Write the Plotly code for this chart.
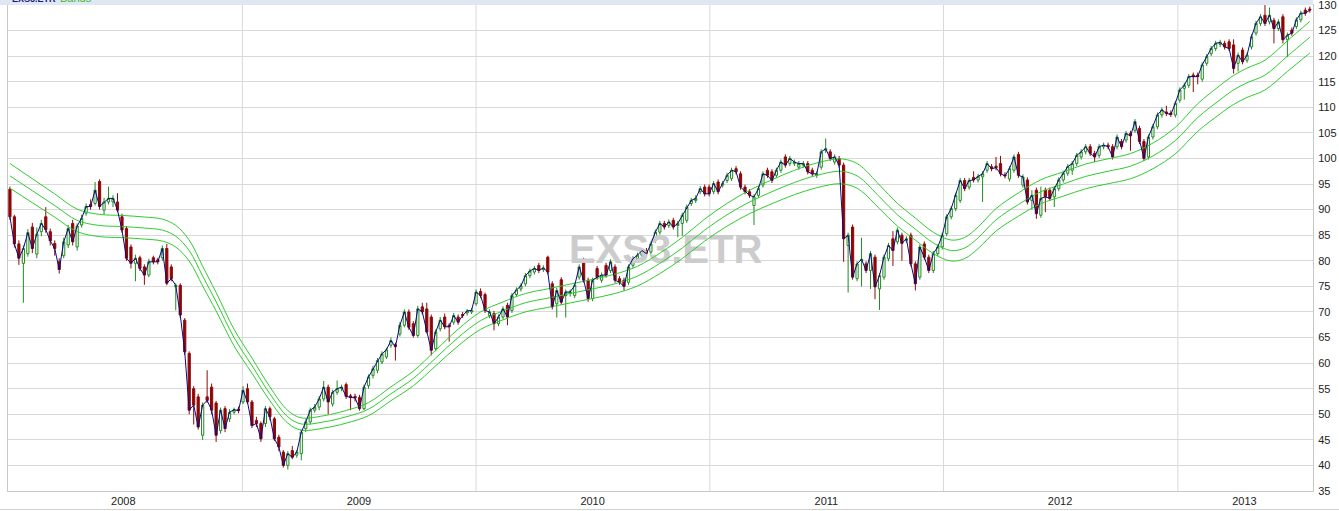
import pandas as pd
import plotly.graph_objects as go

# ---------------- data (weekly candles, EXS3.ETR) ----------------
opens = [
    94.0, 88.6, 83.3, 79.5, 81.4, 86.6, 81.3, 85.7, 88.6, 85.7,
    83.4, 79.8, 81.0, 83.1, 87.3, 82.7, 87.0, 89.3, 91.0, 91.2,
    95.5, 89.9, 91.5, 91.5, 91.5, 88.6, 86.3, 82.7, 79.5, 80.6,
    78.8, 77.2, 80.6, 80.2, 80.6, 82.4, 78.8, 74.9, 75.2, 68.4,
    61.9, 55.0, 53.4, 45.9, 53.4, 55.3, 52.2, 46.8, 51.1, 49.1,
    50.4, 51.0, 52.4, 55.0, 52.4, 48.8, 48.2, 48.2, 51.1, 49.1,
    45.5, 42.6, 40.0, 42.9, 42.0, 42.3, 47.2, 48.5, 50.8, 51.4,
    53.0, 55.3, 52.0, 54.3, 55.0, 55.8, 53.6, 53.5, 53.3, 51.1,
    55.6, 57.6, 58.6, 60.2, 61.2, 63.5, 63.6, 65.7, 67.4, 70.0,
    67.7, 65.4, 71.0, 70.6, 69.0, 62.8, 66.7, 69.0, 67.4, 68.0,
    69.0, 69.5, 69.8, 70.0, 71.6, 74.0, 73.4, 69.3, 69.7, 67.7,
    69.0, 71.3, 70.3, 73.4, 74.5, 75.5, 77.1, 77.8, 79.1, 78.3,
    80.7, 75.5, 71.6, 76.3, 73.2, 73.6, 73.2, 76.8, 80.1, 76.2,
    72.6, 78.5, 76.2, 79.1, 78.1, 78.8, 76.5, 76.2, 75.8, 79.1,
    80.4, 81.1, 82.0, 81.7, 84.0, 85.6, 87.3, 86.9, 87.9, 86.9,
    87.3, 87.9, 91.2, 91.8, 93.5, 94.4, 94.4, 93.5, 95.4, 94.8,
    95.7, 96.1, 98.0, 97.0, 94.4, 93.5, 90.8, 92.8, 94.8, 97.7,
    97.4, 96.7, 97.7, 100.3, 99.0, 99.0, 98.3, 98.7, 99.0, 97.7,
    96.7, 98.3, 101.6, 101.3, 99.3, 100.0, 98.7, 83.0, 86.6, 76.5,
    80.0, 79.4, 78.1, 80.7, 74.5, 76.8, 80.4, 84.3, 83.7, 85.0,
    84.0, 85.0, 79.4, 76.8, 83.3, 80.7, 78.1, 81.4, 82.7, 85.3,
    88.6, 90.2, 91.8, 95.7, 94.4, 96.3, 95.8, 96.4, 97.7, 98.4,
    98.5, 99.0, 96.8, 96.0, 97.7, 100.8, 94.8, 95.8, 91.8, 93.8,
    88.9, 93.8, 93.8, 92.5, 94.1, 95.8, 97.1, 97.7, 99.0, 100.3,
    101.3, 102.3, 101.0, 100.6, 102.3, 102.6, 102.3, 102.3, 103.3, 103.6,
    104.9, 105.5, 105.9, 103.3, 100.3, 104.2, 106.2, 108.5, 109.1, 108.9,
    108.5, 111.4, 113.7, 114.3, 116.3, 116.3, 115.5, 118.6, 120.5, 121.5,
    122.3, 122.5, 122.8, 122.2, 118.6, 121.2, 119.2, 121.8, 124.5, 126.4,
    128.0, 126.7, 127.0, 125.4, 127.7, 123.2, 125.1, 125.8, 127.1, 129.0, 129.2,
]
highs = [
    94.5, 89.0, 84.0, 83.0, 86.2, 87.4, 86.5, 88.0, 90.5, 86.3,
    84.0, 80.5, 84.5, 87.0, 88.0, 87.3, 89.0, 91.2, 92.0, 95.4,
    95.9, 92.3, 94.5, 92.8, 93.2, 89.2, 86.8, 83.2, 81.2, 81.0,
    79.3, 80.4, 81.0, 80.6, 83.0, 83.3, 79.3, 75.6, 75.6, 68.8,
    62.3, 55.5, 54.0, 52.3, 58.6, 56.0, 52.6, 51.3, 51.6, 51.0,
    51.3, 51.5, 55.5, 56.0, 52.8, 49.5, 48.6, 51.6, 51.5, 49.5,
    46.0, 43.0, 42.8, 43.8, 43.0, 47.0, 49.0, 51.3, 52.0, 53.6,
    56.5, 55.8, 54.8, 56.6, 55.8, 56.2, 54.0, 54.0, 53.8, 55.8,
    57.8, 59.5, 61.0, 62.3, 63.0, 65.0, 64.0, 68.0, 70.5, 70.5,
    68.2, 71.2, 71.8, 71.8, 69.5, 66.6, 69.0, 69.7, 67.8, 69.8,
    69.5, 70.0, 70.6, 70.8, 74.4, 74.6, 73.8, 70.5, 70.2, 69.5,
    71.1, 71.8, 73.7, 74.8, 75.6, 77.6, 78.5, 79.0, 79.6, 79.1,
    81.0, 76.0, 74.7, 76.8, 74.4, 74.4, 75.7, 79.3, 80.6, 76.7,
    76.7, 79.0, 77.7, 79.6, 80.3, 79.3, 77.0, 76.7, 79.3, 80.9,
    81.6, 82.5, 82.5, 83.8, 86.1, 87.8, 87.8, 88.1, 88.4, 87.8,
    89.4, 91.0, 92.3, 92.8, 94.6, 94.9, 94.9, 95.6, 95.9, 95.6,
    97.2, 98.2, 98.5, 97.5, 94.9, 94.0, 93.0, 94.6, 97.5, 98.2,
    97.9, 98.2, 99.8, 100.8, 100.5, 99.8, 99.5, 99.5, 99.5, 98.2,
    97.5, 101.8, 103.9, 101.8, 100.8, 100.5, 99.2, 85.5, 87.1, 79.9,
    84.5, 79.9, 81.9, 81.2, 77.6, 81.2, 83.5, 85.8, 86.5, 85.5,
    84.8, 85.5, 79.9, 83.2, 83.8, 81.2, 81.9, 83.2, 85.5, 89.1,
    90.7, 93.3, 96.2, 96.2, 96.2, 97.5, 97.0, 97.5, 99.5, 98.9,
    100.3, 100.5, 97.3, 98.5, 100.8, 101.3, 96.9, 96.3, 93.8, 94.3,
    94.5, 94.3, 94.3, 94.6, 96.3, 97.6, 98.9, 99.5, 101.1, 101.8,
    102.8, 102.8, 101.5, 102.8, 103.1, 103.1, 102.8, 104.7, 103.8, 105.4,
    105.4, 107.7, 106.4, 103.8, 104.7, 106.7, 109.0, 110.0, 110.3, 109.4,
    111.3, 113.9, 114.8, 116.5, 116.8, 116.8, 118.8, 120.4, 122.0, 123.0,
    123.2, 123.0, 123.3, 123.3, 120.7, 121.7, 120.7, 124.3, 126.9, 128.2,
    130.0, 129.5, 127.5, 127.2, 128.2, 124.6, 125.6, 127.6, 128.9, 129.5, 129.7,
]
lows = [
    88.0, 82.6, 79.2, 71.8, 80.8, 81.5, 80.5, 84.8, 85.5, 83.0,
    81.0, 77.5, 80.5, 82.5, 83.0, 82.0, 86.5, 88.8, 90.0, 90.8,
    90.0, 89.0, 91.0, 90.5, 89.5, 85.5, 80.0, 78.5, 76.0, 78.0,
    75.3, 76.8, 79.3, 79.3, 80.0, 75.2, 76.0, 70.3, 68.8, 61.6,
    50.0, 48.0, 47.0, 45.0, 52.2, 50.0, 44.6, 46.2, 46.5, 48.5,
    50.0, 50.2, 52.0, 52.0, 47.3, 47.5, 44.6, 47.5, 48.8, 44.8,
    42.8, 39.6, 39.2, 41.2, 41.5, 41.0, 46.5, 48.0, 50.3, 50.8,
    52.5, 50.0, 51.5, 53.8, 54.5, 53.0, 50.8, 52.5, 50.7, 50.8,
    55.0, 57.0, 58.0, 59.8, 60.8, 63.0, 60.5, 65.2, 67.0, 66.5,
    65.0, 65.0, 69.5, 65.8, 61.5, 62.3, 66.2, 66.6, 64.2, 67.5,
    67.5, 68.8, 69.3, 69.6, 71.2, 72.7, 69.8, 68.8, 66.4, 67.2,
    68.5, 67.4, 69.8, 73.0, 74.0, 75.0, 76.6, 77.3, 77.6, 77.8,
    77.3, 70.5, 68.9, 71.4, 68.9, 73.0, 72.7, 76.3, 75.7, 72.0,
    72.1, 76.3, 75.7, 76.7, 77.6, 75.7, 75.3, 74.2, 75.3, 78.6,
    79.9, 80.6, 80.9, 81.2, 83.5, 85.1, 86.1, 86.4, 86.1, 84.6,
    84.9, 87.4, 90.7, 91.3, 93.0, 92.6, 92.6, 93.0, 93.0, 94.3,
    95.2, 95.6, 96.9, 93.9, 93.0, 92.3, 87.0, 92.3, 94.3, 96.2,
    95.2, 96.2, 97.2, 98.2, 98.5, 98.5, 97.8, 98.2, 96.9, 96.5,
    96.2, 97.8, 101.1, 99.5, 98.8, 98.2, 79.8, 73.8, 76.3, 76.0,
    75.0, 77.6, 74.5, 72.5, 70.4, 76.3, 79.9, 79.0, 83.2, 80.0,
    83.5, 78.9, 74.2, 76.3, 80.2, 77.6, 77.6, 80.9, 82.2, 84.8,
    88.1, 89.7, 91.3, 93.6, 93.9, 95.3, 95.3, 91.5, 97.2, 97.5,
    97.7, 96.5, 96.1, 95.5, 97.2, 96.2, 94.3, 91.0, 90.0, 88.2,
    88.4, 89.5, 91.7, 90.5, 93.6, 95.3, 96.6, 96.8, 98.5, 99.8,
    100.8, 100.5, 99.3, 100.1, 101.8, 101.8, 99.8, 101.8, 101.8, 103.1,
    101.5, 105.0, 102.8, 99.5, 99.8, 103.7, 105.7, 108.0, 108.3, 108.1,
    108.0, 110.9, 111.5, 113.8, 113.0, 114.5, 115.0, 118.1, 120.0, 121.0,
    121.8, 121.3, 121.0, 116.6, 117.0, 118.4, 118.7, 121.3, 124.0, 125.9,
    125.9, 126.2, 122.5, 124.9, 122.5, 119.8, 124.0, 125.3, 126.6, 127.9, 128.5,
]
closes = [
    88.6, 83.3, 80.5, 82.4, 85.5, 82.4, 85.2, 87.3, 86.1, 83.9,
    82.4, 78.3, 83.7, 86.3, 83.7, 86.8, 88.3, 90.6, 90.6, 93.8,
    90.6, 91.5, 92.2, 92.2, 89.9, 86.0, 80.5, 79.5, 80.5, 78.5,
    77.2, 79.8, 79.8, 79.8, 82.4, 75.6, 76.5, 75.2, 69.4, 62.2,
    50.8, 51.8, 47.5, 51.8, 52.7, 50.8, 45.9, 50.8, 47.2, 50.4,
    50.9, 50.7, 54.7, 52.4, 47.8, 48.2, 45.2, 51.1, 49.5, 45.2,
    43.6, 40.0, 42.3, 41.6, 42.6, 46.5, 48.5, 50.8, 51.4, 53.0,
    55.3, 52.4, 54.3, 55.0, 55.3, 53.5, 53.3, 53.2, 51.1, 55.3,
    57.3, 58.9, 60.5, 61.8, 62.6, 64.4, 63.2, 67.4, 70.0, 67.0,
    65.4, 70.6, 70.0, 66.1, 62.5, 66.1, 68.4, 67.1, 67.1, 69.3,
    68.0, 69.3, 70.2, 70.3, 73.9, 73.2, 70.3, 70.0, 67.7, 69.0,
    70.6, 69.0, 73.2, 74.3, 75.1, 77.1, 78.0, 78.5, 78.1, 78.6,
    77.8, 71.0, 74.2, 71.9, 73.9, 73.9, 75.2, 78.8, 76.2, 72.6,
    76.2, 76.8, 77.2, 77.2, 79.8, 76.2, 75.8, 75.0, 78.8, 80.4,
    81.1, 82.0, 81.4, 83.3, 85.6, 87.3, 86.6, 87.6, 86.6, 87.3,
    88.9, 90.5, 91.8, 92.2, 94.1, 93.1, 93.1, 95.1, 93.5, 95.1,
    96.7, 97.7, 97.4, 94.4, 93.5, 92.8, 92.5, 94.1, 97.0, 96.7,
    95.7, 97.7, 99.3, 98.7, 100.0, 99.3, 99.0, 99.0, 97.4, 97.0,
    97.0, 101.3, 101.9, 100.0, 100.3, 98.7, 84.3, 85.0, 76.8, 79.4,
    80.3, 78.1, 81.4, 74.9, 77.1, 80.7, 83.0, 82.0, 86.0, 83.4,
    84.3, 79.4, 75.5, 82.7, 80.7, 78.1, 81.4, 82.7, 85.0, 88.6,
    90.2, 92.8, 95.7, 94.1, 95.7, 95.8, 96.5, 97.0, 99.0, 98.0,
    98.2, 97.0, 96.6, 98.0, 100.3, 96.7, 96.4, 91.5, 92.8, 89.2,
    92.2, 92.5, 92.2, 94.1, 95.8, 97.1, 98.4, 99.0, 100.6, 101.3,
    102.3, 101.0, 100.3, 102.3, 102.6, 102.3, 100.3, 104.2, 102.3, 104.9,
    104.4, 107.2, 103.3, 100.0, 104.2, 106.2, 108.5, 109.5, 108.8, 108.6,
    110.8, 113.4, 114.3, 116.0, 116.0, 116.0, 118.3, 119.9, 121.5, 122.5,
    122.7, 121.8, 121.5, 117.6, 120.2, 118.9, 120.2, 123.8, 126.4, 127.7,
    126.4, 128.0, 125.4, 126.7, 123.2, 124.1, 124.5, 127.1, 128.4, 128.4, 129.0,
]

# middle line of the moving-average band (read at sample weeks)
band_week = [0, 5, 10, 15, 20, 25, 30, 34, 37, 40, 43, 46, 50, 54, 58, 62, 65, 70,
             75, 80, 85, 90, 95, 100, 105, 110, 115, 120, 125, 130, 135, 140, 145,
             150, 155, 160, 165, 170, 175, 180, 185, 188, 190, 194, 198, 202, 206,
             210, 213, 216, 220, 225, 230, 235, 240, 245, 250, 255, 260, 265, 270,
             273, 276, 280, 285, 290]
band_mid = [96.6, 93.7, 90.8, 87.9, 86.9, 86.7, 86.4, 86.0, 84.8, 82.0, 77.0, 72.0,
            65.0, 59.5, 54.0, 49.5, 48.1, 48.5, 49.5, 51.0, 54.0, 57.0, 61.0, 65.0,
            68.3, 70.2, 71.8, 72.7, 73.6, 74.5, 75.5, 77.0, 79.5, 82.5, 86.0, 89.0,
            91.5, 93.5, 95.3, 96.7, 97.5, 97.0, 96.0, 92.5, 89.0, 86.2, 83.5, 82.0,
            82.5, 84.5, 88.0, 91.0, 93.5, 95.0, 96.5, 97.5, 98.5, 100.5, 103.5,
            108.0, 111.5, 113.4, 114.8, 116.3, 120.0, 123.7]
band_pct = 2.5

year_labels = ["2008", "2009", "2010", "2011", "2012", "2013"]
label_dates = ["2008-06-29", "2009-07-02", "2010-07-02", "2011-07-02", "2012-07-01", "2013-04-15"]
year_starts = ["2009-01-01", "2010-01-01", "2011-01-01", "2012-01-01", "2013-01-01"]

assert len(opens) == len(highs) == len(lows) == len(closes), (len(opens), len(highs), len(lows), len(closes))

dates = pd.date_range("2008-01-04", periods=len(closes), freq="7D")
band_dates = [dates[i] for i in band_week]
band_up = [v * (1 + band_pct / 100) for v in band_mid]
band_lo = [v * (1 - band_pct / 100) for v in band_mid]

GREEN_BAND = "#2ecc2e"
FONT = "Liberation Sans, Arial, sans-serif"

fig = go.Figure()

# watermark (under the data)
fig.add_trace(go.Scatter(
    x=[pd.Timestamp("2010-10-24")], y=[81.5], mode="text", text=["<b>EXS3.ETR</b>"],
    textfont=dict(size=40, color="#cccccc", family=FONT), hoverinfo="skip", showlegend=False))

for yy in (band_up, band_mid, band_lo):
    fig.add_trace(go.Scatter(x=band_dates, y=yy, mode="lines",
                             line=dict(color=GREEN_BAND, width=1, shape="spline", smoothing=1.0),
                             showlegend=False, hoverinfo="skip"))

fig.add_trace(go.Candlestick(
    x=dates, open=opens, high=highs, low=lows, close=closes,
    increasing=dict(line=dict(color="#1f8a1f", width=1), fillcolor="white"),
    decreasing=dict(line=dict(color="#8b0a0a", width=1), fillcolor="#990000"),
    whiskerwidth=0, showlegend=False))

fig.add_trace(go.Scatter(x=dates, y=closes, mode="lines",
                         line=dict(color="#0a0a80", width=1), showlegend=False, hoverinfo="skip"))

shapes = []
for d in year_starts:
    shapes.append(dict(type="line", xref="x", yref="paper", x0=d, x1=d, y0=0, y1=1,
                       line=dict(color="#d9d9d9", width=1), layer="below"))
# header strip (over the plot width only) and bottom rule
shapes.append(dict(type="rect", xref="paper", yref="paper", x0=-0.01, x1=1.0, y0=1.0, y1=1.02,
                   line=dict(width=0), fillcolor="#dfe7f2", layer="above"))
shapes.append(dict(type="line", xref="paper", yref="paper", x0=-0.01, x1=1.03, y0=-0.038, y1=-0.038,
                   line=dict(color="#d0d0d0", width=1)))

# header legend text (mostly cut off at the top edge, as in the source)
annotations = [
    dict(xref="paper", yref="paper", x=0.0015, y=0.9975, xanchor="left", yanchor="bottom",
         text="<b>EXS3.ETR</b>", showarrow=False, font=dict(size=9, color="#1a1a7a", family=FONT)),
    dict(xref="paper", yref="paper", x=0.0385, y=0.9975, xanchor="left", yanchor="bottom",
         text="Bands", showarrow=False, font=dict(size=11, color="#33bb33", family=FONT)),
]

fig.update_layout(
    width=1339, height=511,
    margin=dict(l=8, r=26, t=5, b=20, autoexpand=False),
    paper_bgcolor="white", plot_bgcolor="white",
    font=dict(family=FONT, size=11, color="#222222"),
    showlegend=False,
    shapes=shapes,
    annotations=annotations,
    xaxis=dict(
        type="date", range=["2008-01-01", "2013-07-31"],
        rangeslider=dict(visible=False), automargin=False,
        tickmode="array", tickvals=label_dates, ticktext=year_labels,
        showgrid=False, ticks="", zeroline=False,
        showline=True, linecolor="#c8c8c8", mirror=True,
        tickfont=dict(size=11, color="#222222"),
    ),
    yaxis=dict(
        side="right", range=[35, 130], dtick=5, tick0=35, automargin=False,
        showgrid=True, gridcolor="#d9d9d9", gridwidth=1, zeroline=False,
        showline=True, linecolor="#c8c8c8", mirror=True,
        ticks="outside", ticklen=2, tickcolor="rgba(0,0,0,0)",
        ticklabeloverflow="allow",
        tickfont=dict(size=11, color="#222222"),
    ),
)

fig.write_html("out.html", config={"displayModeBar": False},
               post_script="document.body.style.margin='0';document.body.style.padding='0';")
